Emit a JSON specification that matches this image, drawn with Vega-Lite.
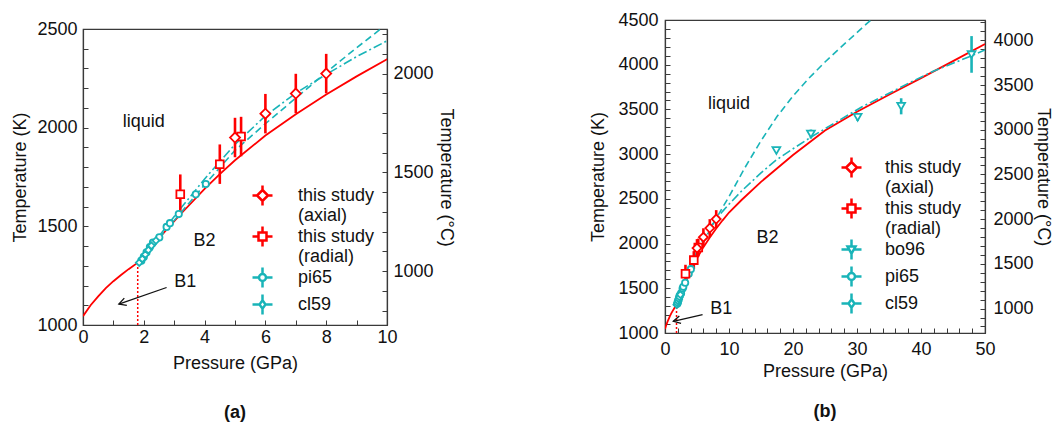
{
  "$schema": "https://vega.github.io/schema/vega-lite/v6.json",
  "padding": {"left": 11, "top": 10, "right": 0, "bottom": 0},
  "spacing": 134,
  "bounds": "full",
  "resolve": {"scale": {"color": "independent", "shape": "independent"}},
  "config": {
    "font": "Liberation Sans",
    "view": {"stroke": "#3a3a3a", "strokeWidth": 1.2},
    "axis": {"grid": false, "domainColor": "#3a3a3a", "tickColor": "#3a3a3a", "domainWidth": 1.2, "tickWidth": 1, "tickSize": -5, "labelFontSize": 18, "titleFontSize": 18, "labelColor": "#111", "titleColor": "#111", "titleFontWeight": "normal", "labelFlush": false, "labelOverlap": false, "labelFont": "Liberation Sans", "titleFont": "Liberation Sans"},
    "legend": {"labelFontSize": 18, "labelFont": "Liberation Sans", "labelColor": "#111"},
    "title": {"fontSize": 18, "fontWeight": "bold", "font": "Liberation Sans", "color": "#111"}
  },
  "datasets": {
    "curves": [
      {"c": "melt", "P": 0, "T": 1045}, {"c": "melt", "P": 0.25, "T": 1100}, {"c": "melt", "P": 0.5, "T": 1145}, {"c": "melt", "P": 0.75, "T": 1187}, {"c": "melt", "P": 1.0, "T": 1222}, {"c": "melt", "P": 1.25, "T": 1253}, {"c": "melt", "P": 1.5, "T": 1283}, {"c": "melt", "P": 1.8, "T": 1316}, {"c": "melt", "P": 2.5, "T": 1440}, {"c": "melt", "P": 3.2, "T": 1560}, {"c": "melt", "P": 4, "T": 1690}, {"c": "melt", "P": 4.5, "T": 1765}, {"c": "melt", "P": 5, "T": 1835}, {"c": "melt", "P": 6, "T": 1960}, {"c": "melt", "P": 7, "T": 2068}, {"c": "melt", "P": 8, "T": 2168}, {"c": "melt", "P": 9, "T": 2260}, {"c": "melt", "P": 10, "T": 2347}, {"c": "melt", "P": 12, "T": 2490}, {"c": "melt", "P": 15, "T": 2690}, {"c": "melt", "P": 20, "T": 2990}, {"c": "melt", "P": 25, "T": 3265}, {"c": "melt", "P": 30, "T": 3475}, {"c": "melt", "P": 35, "T": 3665}, {"c": "melt", "P": 40, "T": 3850}, {"c": "melt", "P": 45, "T": 4040}, {"c": "melt", "P": 50, "T": 4232},
      {"c": "dash", "P": 1.8, "T": 1316}, {"c": "dash", "P": 2.5, "T": 1440}, {"c": "dash", "P": 3, "T": 1530}, {"c": "dash", "P": 3.5, "T": 1620}, {"c": "dash", "P": 4, "T": 1710}, {"c": "dash", "P": 5, "T": 1885}, {"c": "dash", "P": 6, "T": 2020}, {"c": "dash", "P": 7, "T": 2150}, {"c": "dash", "P": 8, "T": 2280}, {"c": "dash", "P": 9, "T": 2405}, {"c": "dash", "P": 10, "T": 2525}, {"c": "dash", "P": 12.5, "T": 2850}, {"c": "dash", "P": 15, "T": 3150}, {"c": "dash", "P": 17.5, "T": 3420}, {"c": "dash", "P": 20, "T": 3650}, {"c": "dash", "P": 22.5, "T": 3850}, {"c": "dash", "P": 25, "T": 4030}, {"c": "dash", "P": 28, "T": 4230}, {"c": "dash", "P": 31.7, "T": 4470}, {"c": "dash", "P": 34, "T": 4610},
      {"c": "dashdot", "P": 1.8, "T": 1316}, {"c": "dashdot", "P": 2.5, "T": 1450}, {"c": "dashdot", "P": 3, "T": 1550}, {"c": "dashdot", "P": 4, "T": 1740}, {"c": "dashdot", "P": 5, "T": 1915}, {"c": "dashdot", "P": 6, "T": 2060}, {"c": "dashdot", "P": 7, "T": 2175}, {"c": "dashdot", "P": 8, "T": 2270}, {"c": "dashdot", "P": 9, "T": 2360}, {"c": "dashdot", "P": 10, "T": 2440}, {"c": "dashdot", "P": 12, "T": 2590}, {"c": "dashdot", "P": 15, "T": 2790}, {"c": "dashdot", "P": 17.3, "T": 2930}, {"c": "dashdot", "P": 20, "T": 3060}, {"c": "dashdot", "P": 22.8, "T": 3190}, {"c": "dashdot", "P": 25.6, "T": 3310}, {"c": "dashdot", "P": 30.8, "T": 3530}, {"c": "dashdot", "P": 35, "T": 3680}, {"c": "dashdot", "P": 38.1, "T": 3795}, {"c": "dashdot", "P": 42, "T": 3930}, {"c": "dashdot", "P": 47.9, "T": 4100}, {"c": "dashdot", "P": 50, "T": 4165}
    ],
    "pts": [
      {"s": "axial", "P": 5.0, "T": 1950, "lo": 1850, "hi": 2050},
      {"s": "axial", "P": 6.0, "T": 2071, "lo": 1971, "hi": 2171},
      {"s": "axial", "P": 7.0, "T": 2173, "lo": 2073, "hi": 2273},
      {"s": "axial", "P": 8.0, "T": 2274, "lo": 2174, "hi": 2374},
      {"s": "radial", "P": 3.2, "T": 1663, "lo": 1563, "hi": 1763},
      {"s": "radial", "P": 4.5, "T": 1815, "lo": 1715, "hi": 1915},
      {"s": "radial", "P": 5.2, "T": 1955, "lo": 1855, "hi": 2055},
      {"s": "pi65", "P": 1.92, "T": 1326}, {"s": "pi65", "P": 2.0, "T": 1345}, {"s": "pi65", "P": 2.09, "T": 1368}, {"s": "pi65", "P": 2.2, "T": 1395}, {"s": "pi65", "P": 2.3, "T": 1418}, {"s": "pi65", "P": 2.51, "T": 1444}, {"s": "pi65", "P": 2.75, "T": 1497}, {"s": "pi65", "P": 2.86, "T": 1516}, {"s": "pi65", "P": 3.15, "T": 1562}, {"s": "pi65", "P": 3.71, "T": 1662}, {"s": "pi65", "P": 4.04, "T": 1714},
      {"s": "cl59", "P": 1.85, "T": 1316}, {"s": "cl59", "P": 1.95, "T": 1335}, {"s": "cl59", "P": 2.05, "T": 1357}, {"s": "cl59", "P": 2.15, "T": 1380}, {"s": "cl59", "P": 2.25, "T": 1402}, {"s": "cl59", "P": 2.4, "T": 1428},
      {"s": "bo96", "P": 17.4, "T": 3040},
      {"s": "bo96", "P": 22.8, "T": 3225, "lo": 3175, "hi": 3275},
      {"s": "bo96", "P": 30.1, "T": 3412, "lo": 3372, "hi": 3452},
      {"s": "bo96", "P": 36.9, "T": 3535, "lo": 3445, "hi": 3625},
      {"s": "bo96", "P": 47.9, "T": 4113, "lo": 3910, "hi": 4320}
    ]
  },
  "hconcat": [
    {
      "vconcat": [
        {"width": 304, "height": 1, "view": {"stroke": null}, "data": {"values": [{}]}, "mark": {"type": "point", "opacity": 0}, "encoding": {}},
        {
          "width": 304, "height": 296,
          "title": {"text": "(a)", "orient": "bottom", "offset": 32},
          "layer": [
            {
              "layer": [
                {"data": {"name": "curves"}, "transform": [{"filter": "datum.c === 'melt'"}],
                 "mark": {"type": "line", "color": "#f00", "strokeWidth": 1.8, "clip": true},
                 "encoding": {
                   "x": {"field": "P", "type": "quantitative", "scale": {"domain": [0, 10], "nice": false, "zero": false}, "axis": null},
                   "y": {"field": "T", "type": "quantitative", "scale": {"domain": [1000, 2500], "nice": false, "zero": false}, "axis": null}
                 }},
                {"data": {"name": "curves"}, "transform": [{"filter": "datum.c === 'dash'"}],
                 "mark": {"type": "line", "color": "#19b4b8", "strokeWidth": 1.6, "strokeDash": [7, 4], "clip": true},
                 "encoding": {"x": {"field": "P", "type": "quantitative", "axis": null}, "y": {"field": "T", "type": "quantitative", "axis": null}}},
                {"data": {"name": "curves"}, "transform": [{"filter": "datum.c === 'dashdot'"}],
                 "mark": {"type": "line", "color": "#19b4b8", "strokeWidth": 1.6, "strokeDash": [9, 3, 2, 3], "clip": true},
                 "encoding": {"x": {"field": "P", "type": "quantitative", "axis": null}, "y": {"field": "T", "type": "quantitative", "axis": null}}},
                {"data": {"values": [{}]},
                 "mark": {"type": "rule", "color": "#f00", "strokeWidth": 1.5, "strokeDash": [2, 2]},
                 "encoding": {"x": {"datum": 1.8, "type": "quantitative", "axis": null}, "y": {"datum": 1000, "type": "quantitative", "axis": null}, "y2": {"datum": 1316}}},
                {"data": {"name": "pts"}, "transform": [{"filter": "isValid(datum.lo) && (datum.s === 'axial' || datum.s === 'radial')"}],
                 "mark": {"type": "rule", "color": "#f00", "strokeWidth": 2.6, "clip": true},
                 "encoding": {"x": {"field": "P", "type": "quantitative", "axis": null}, "y": {"field": "lo", "type": "quantitative", "axis": null}, "y2": {"field": "hi"}}},
                {"data": {"name": "pts"}, "transform": [{"filter": "datum.s === 'pi65'"}],
                 "mark": {"type": "point", "shape": "circle", "size": 40, "filled": true, "fill": "white", "stroke": "#19b4b8", "strokeWidth": 1.8, "opacity": 1, "clip": true},
                 "encoding": {"x": {"field": "P", "type": "quantitative", "axis": null}, "y": {"field": "T", "type": "quantitative", "axis": null}}},
                {"data": {"name": "pts"}, "transform": [{"filter": "datum.s === 'cl59'"}],
                 "mark": {"type": "point", "shape": "diamond", "size": 45, "filled": true, "fill": "white", "stroke": "#19b4b8", "strokeWidth": 1.8, "opacity": 1, "clip": true},
                 "encoding": {"x": {"field": "P", "type": "quantitative", "axis": null}, "y": {"field": "T", "type": "quantitative", "axis": null}}},
                {"data": {"name": "pts"}, "transform": [{"filter": "datum.s === 'radial'"}],
                 "mark": {"type": "point", "shape": "square", "size": 60, "filled": true, "fill": "white", "stroke": "#f00", "strokeWidth": 1.8, "opacity": 1, "clip": true},
                 "encoding": {"x": {"field": "P", "type": "quantitative", "axis": null}, "y": {"field": "T", "type": "quantitative", "axis": null}}},
                {"data": {"name": "pts"}, "transform": [{"filter": "datum.s === 'axial'"}],
                 "mark": {"type": "point", "shape": "diamond", "size": 100, "filled": true, "fill": "white", "stroke": "#f00", "strokeWidth": 1.8, "opacity": 1, "clip": true},
                 "encoding": {"x": {"field": "P", "type": "quantitative", "axis": null}, "y": {"field": "T", "type": "quantitative", "axis": null}}},
                {"data": {"values": [{}]}, "mark": {"type": "text", "fontSize": 18, "color": "#111"},
                 "encoding": {"x": {"datum": 2.0, "type": "quantitative", "axis": null}, "y": {"datum": 2030, "type": "quantitative", "axis": null}, "text": {"value": "liquid"}}},
                {"data": {"values": [{}]}, "mark": {"type": "text", "fontSize": 18, "color": "#111"},
                 "encoding": {"x": {"datum": 4.0, "type": "quantitative", "axis": null}, "y": {"datum": 1427, "type": "quantitative", "axis": null}, "text": {"value": "B2"}}},
                {"data": {"values": [{}]}, "mark": {"type": "text", "fontSize": 18, "color": "#111"},
                 "encoding": {"x": {"datum": 3.36, "type": "quantitative", "axis": null}, "y": {"datum": 1219, "type": "quantitative", "axis": null}, "text": {"value": "B1"}}},
                {"data": {"values": [{}]}, "mark": {"type": "rule", "color": "#111", "strokeWidth": 1.3},
                 "encoding": {"x": {"datum": 2.75, "type": "quantitative", "axis": null}, "y": {"datum": 1190, "type": "quantitative", "axis": null}, "x2": {"datum": 1.18}, "y2": {"datum": 1106}}},
                {"data": {"values": [{}]}, "mark": {"type": "point", "shape": "M-1,-0.55L0,0L-1,0.55", "size": 200, "angle": 161, "filled": false, "stroke": "#111", "strokeWidth": 1.3, "opacity": 1},
                 "encoding": {"x": {"datum": 1.18, "type": "quantitative", "axis": null}, "y": {"datum": 1106, "type": "quantitative", "axis": null}}},
                {"data": {"values": []},
                 "mark": {"type": "point", "filled": false, "strokeWidth": 2.5, "opacity": 1},
                 "encoding": {
                   "color": {"field": "s", "type": "nominal", "scale": {"domain": ["this study|(axial)", "this study|(radial)", "pi65", "cl59"], "range": ["#f00", "#f00", "#19b4b8", "#19b4b8"]},
                             "legend": {"orient": "none", "legendX": 168, "legendY": 164, "title": null, "labelExpr": "split(datum.label, '|')", "symbolSize": 400, "symbolStrokeWidth": 2.5, "labelOffset": 24, "rowPadding": -5, "padding": 0}},
                   "shape": {"field": "s", "type": "nominal", "scale": {"domain": ["this study|(axial)", "this study|(radial)", "pi65", "cl59"], "range": [
                     "M0,-0.55L0.55,0L0,0.55L-0.55,0Z M0,-1L0,-0.55 M0,0.55L0,1 M-1,0L-0.55,0 M0.55,0L1,0",
                     "M-0.4,-0.4L0.4,-0.4L0.4,0.4L-0.4,0.4Z M0,-1L0,-0.4 M0,0.4L0,1 M-1,0L-0.4,0 M0.4,0L1,0",
                     "M0.35,0A0.35,0.35,0,1,1,-0.35,0A0.35,0.35,0,1,1,0.35,0Z M0,-1L0,-0.35 M0,0.35L0,1 M-1,0L-0.35,0 M0.35,0L1,0",
                     "M0,-0.42L0.3,0L0,0.42L-0.3,0Z M0,-1L0,-0.42 M0,0.42L0,1 M-1,0L-0.3,0 M0.3,0L1,0"]},
                             "legend": {"orient": "none", "legendX": 168, "legendY": 164, "title": null, "labelExpr": "split(datum.label, '|')", "symbolSize": 400, "symbolStrokeWidth": 2.5, "labelOffset": 24, "rowPadding": -5, "padding": 0}}
                 }}
              ]
            },
            {"data": {"values": [{}]},
             "mark": {"type": "point", "opacity": 0},
             "encoding": {
               "x": {"datum": 5, "type": "quantitative", "scale": {"domain": [0, 10], "nice": false, "zero": false},
                     "axis": {"orient": "bottom", "title": "Pressure (GPa)", "values": [0,0.5,1,1.5,2,2.5,3,3.5,4,4.5,5,5.5,6,6.5,7,7.5,8,8.5,9,9.5,10], "format": "d", "labelExpr": "datum.value % 2 === 0 ? datum.label : ''", "labelOverlap": false, "labelPadding": 8, "titlePadding": 8}},
               "y": {"datum": 1500, "type": "quantitative", "scale": {"domain": [1000, 2500], "nice": false, "zero": false},
                     "axis": {"orient": "left", "title": "Temperature (K)", "values": [1000,1100,1200,1300,1400,1500,1600,1700,1800,1900,2000,2100,2200,2300,2400,2500], "format": "d", "labelExpr": "datum.value % 500 === 0 ? datum.label : ''", "labelOverlap": false, "labelPadding": 11, "titlePadding": 7}}
             }},
            {"data": {"values": [{}]},
             "mark": {"type": "point", "opacity": 0},
             "encoding": {
               "y": {"datum": 1000, "type": "quantitative", "scale": {"domain": [726.85, 2226.85], "nice": false, "zero": false},
                     "axis": {"orient": "right", "title": "Temperature (°C)", "values": [800,900,1000,1100,1200,1300,1400,1500,1600,1700,1800,1900,2000,2100,2200], "format": "d", "labelExpr": "datum.value % 500 === 0 ? datum.label : ''", "labelOverlap": false, "labelPadding": 11, "titlePadding": 3}}
             }}
          ],
          "resolve": {"scale": {"y": "independent", "x": "independent"}}
        }
      ],
      "spacing": -5
    },
    {
      "width": 320, "height": 313,
      "title": {"text": "(b)", "orient": "bottom", "offset": 23},
      "layer": [
        {
          "layer": [
            {"data": {"name": "curves"}, "transform": [{"filter": "datum.c === 'melt'"}],
             "mark": {"type": "line", "color": "#f00", "strokeWidth": 1.8, "clip": true},
             "encoding": {
               "x": {"field": "P", "type": "quantitative", "scale": {"domain": [0, 50], "nice": false, "zero": false}, "axis": null},
               "y": {"field": "T", "type": "quantitative", "scale": {"domain": [1000, 4500], "nice": false, "zero": false}, "axis": null}
             }},
            {"data": {"name": "curves"}, "transform": [{"filter": "datum.c === 'dash'"}],
             "mark": {"type": "line", "color": "#19b4b8", "strokeWidth": 1.6, "strokeDash": [7, 4], "clip": true},
             "encoding": {"x": {"field": "P", "type": "quantitative", "axis": null}, "y": {"field": "T", "type": "quantitative", "axis": null}}},
            {"data": {"name": "curves"}, "transform": [{"filter": "datum.c === 'dashdot'"}],
             "mark": {"type": "line", "color": "#19b4b8", "strokeWidth": 1.6, "strokeDash": [9, 3, 2, 3], "clip": true},
             "encoding": {"x": {"field": "P", "type": "quantitative", "axis": null}, "y": {"field": "T", "type": "quantitative", "axis": null}}},
            {"data": {"values": [{}]},
             "mark": {"type": "rule", "color": "#f00", "strokeWidth": 1.5, "strokeDash": [2, 2]},
             "encoding": {"x": {"datum": 1.8, "type": "quantitative", "axis": null}, "y": {"datum": 1000, "type": "quantitative", "axis": null}, "y2": {"datum": 1316}}},
            {"data": {"name": "pts"}, "transform": [{"filter": "isValid(datum.lo) && (datum.s === 'axial' || datum.s === 'radial')"}],
             "mark": {"type": "rule", "color": "#f00", "strokeWidth": 2.6, "clip": true},
             "encoding": {"x": {"field": "P", "type": "quantitative", "axis": null}, "y": {"field": "lo", "type": "quantitative", "axis": null}, "y2": {"field": "hi"}}},
            {"data": {"name": "pts"}, "transform": [{"filter": "isValid(datum.lo) && datum.s === 'bo96'"}],
             "mark": {"type": "rule", "color": "#19b4b8", "strokeWidth": 2.6, "clip": true},
             "encoding": {"x": {"field": "P", "type": "quantitative", "axis": null}, "y": {"field": "lo", "type": "quantitative", "axis": null}, "y2": {"field": "hi"}}},
            {"data": {"name": "pts"}, "transform": [{"filter": "datum.s === 'pi65'"}],
             "mark": {"type": "point", "shape": "circle", "size": 40, "filled": true, "fill": "white", "stroke": "#19b4b8", "strokeWidth": 1.8, "opacity": 1, "clip": true},
             "encoding": {"x": {"field": "P", "type": "quantitative", "axis": null}, "y": {"field": "T", "type": "quantitative", "axis": null}}},
            {"data": {"name": "pts"}, "transform": [{"filter": "datum.s === 'cl59'"}],
             "mark": {"type": "point", "shape": "diamond", "size": 45, "filled": true, "fill": "white", "stroke": "#19b4b8", "strokeWidth": 1.8, "opacity": 1, "clip": true},
             "encoding": {"x": {"field": "P", "type": "quantitative", "axis": null}, "y": {"field": "T", "type": "quantitative", "axis": null}}},
            {"data": {"name": "pts"}, "transform": [{"filter": "datum.s === 'bo96'"}],
             "mark": {"type": "point", "shape": "triangle-down", "size": 60, "filled": true, "fill": "white", "stroke": "#19b4b8", "strokeWidth": 1.8, "opacity": 1, "clip": true},
             "encoding": {"x": {"field": "P", "type": "quantitative", "axis": null}, "y": {"field": "T", "type": "quantitative", "axis": null}}},
            {"data": {"name": "pts"}, "transform": [{"filter": "datum.s === 'radial'"}],
             "mark": {"type": "point", "shape": "square", "size": 60, "filled": true, "fill": "white", "stroke": "#f00", "strokeWidth": 1.8, "opacity": 1, "clip": true},
             "encoding": {"x": {"field": "P", "type": "quantitative", "axis": null}, "y": {"field": "T", "type": "quantitative", "axis": null}}},
            {"data": {"name": "pts"}, "transform": [{"filter": "datum.s === 'axial'"}],
             "mark": {"type": "point", "shape": "diamond", "size": 80, "filled": true, "fill": "white", "stroke": "#f00", "strokeWidth": 1.8, "opacity": 1, "clip": true},
             "encoding": {"x": {"field": "P", "type": "quantitative", "axis": null}, "y": {"field": "T", "type": "quantitative", "axis": null}}},
            {"data": {"values": [{}]}, "mark": {"type": "text", "fontSize": 18, "color": "#111"},
             "encoding": {"x": {"datum": 10.0, "type": "quantitative", "axis": null}, "y": {"datum": 3557, "type": "quantitative", "axis": null}, "text": {"value": "liquid"}}},
            {"data": {"values": [{}]}, "mark": {"type": "text", "fontSize": 18, "color": "#111"},
             "encoding": {"x": {"datum": 16.0, "type": "quantitative", "axis": null}, "y": {"datum": 2065, "type": "quantitative", "axis": null}, "text": {"value": "B2"}}},
            {"data": {"values": [{}]}, "mark": {"type": "text", "fontSize": 18, "color": "#111"},
             "encoding": {"x": {"datum": 8.8, "type": "quantitative", "axis": null}, "y": {"datum": 1265, "type": "quantitative", "axis": null}, "text": {"value": "B1"}}},
            {"data": {"values": [{}]}, "mark": {"type": "rule", "color": "#111", "strokeWidth": 1.3},
             "encoding": {"x": {"datum": 5.87, "type": "quantitative", "axis": null}, "y": {"datum": 1206, "type": "quantitative", "axis": null}, "x2": {"datum": 1.3}, "y2": {"datum": 1131}}},
            {"data": {"values": [{}]}, "mark": {"type": "point", "shape": "M-1,-0.55L0,0L-1,0.55", "size": 200, "angle": 167, "filled": false, "stroke": "#111", "strokeWidth": 1.3, "opacity": 1},
             "encoding": {"x": {"datum": 1.3, "type": "quantitative", "axis": null}, "y": {"datum": 1131, "type": "quantitative", "axis": null}}},
            {"data": {"values": []},
             "mark": {"type": "point", "filled": false, "strokeWidth": 2.5, "opacity": 1},
             "encoding": {
               "color": {"field": "s", "type": "nominal", "scale": {"domain": ["this study|(axial)", "this study|(radial)", "bo96", "pi65", "cl59"], "range": ["#f00", "#f00", "#19b4b8", "#19b4b8", "#19b4b8"]},
                         "legend": {"orient": "none", "legendX": 175, "legendY": 136, "title": null, "labelExpr": "split(datum.label, '|')", "symbolSize": 400, "symbolStrokeWidth": 2.5, "labelOffset": 22, "rowPadding": -4, "padding": 0}},
               "shape": {"field": "s", "type": "nominal", "scale": {"domain": ["this study|(axial)", "this study|(radial)", "bo96", "pi65", "cl59"], "range": [
                 "M0,-0.55L0.55,0L0,0.55L-0.55,0Z M0,-1L0,-0.55 M0,0.55L0,1 M-1,0L-0.55,0 M0.55,0L1,0",
                 "M-0.4,-0.4L0.4,-0.4L0.4,0.4L-0.4,0.4Z M0,-1L0,-0.4 M0,0.4L0,1 M-1,0L-0.4,0 M0.4,0L1,0",
                 "M-0.4,-0.3L0.4,-0.3L0,0.42Z M0,-1L0,-0.3 M0,0.42L0,1 M-1,0L-0.2,0 M0.2,0L1,0",
                 "M0.35,0A0.35,0.35,0,1,1,-0.35,0A0.35,0.35,0,1,1,0.35,0Z M0,-1L0,-0.35 M0,0.35L0,1 M-1,0L-0.35,0 M0.35,0L1,0",
                 "M0,-0.42L0.3,0L0,0.42L-0.3,0Z M0,-1L0,-0.42 M0,0.42L0,1 M-1,0L-0.3,0 M0.3,0L1,0"]},
                         "legend": {"orient": "none", "legendX": 175, "legendY": 136, "title": null, "labelExpr": "split(datum.label, '|')", "symbolSize": 400, "symbolStrokeWidth": 2.5, "labelOffset": 22, "rowPadding": -4, "padding": 0}}
             }}
          ]
        },
        {"data": {"values": [{}]},
         "mark": {"type": "point", "opacity": 0},
         "encoding": {
           "x": {"datum": 25, "type": "quantitative", "scale": {"domain": [0, 50], "nice": false, "zero": false},
                 "axis": {"orient": "bottom", "title": "Pressure (GPa)", "values": [0,2,4,6,8,10,12,14,16,18,20,22,24,26,28,30,32,34,36,38,40,42,44,46,48,50], "format": "d", "labelExpr": "datum.value % 10 === 0 ? datum.label : ''", "labelOverlap": false, "labelPadding": 12, "titlePadding": 4}},
           "y": {"datum": 2000, "type": "quantitative", "scale": {"domain": [1000, 4500], "nice": false, "zero": false},
                 "axis": {"orient": "left", "title": "Temperature (K)", "values": [1000,1100,1200,1300,1400,1500,1600,1700,1800,1900,2000,2100,2200,2300,2400,2500,2600,2700,2800,2900,3000,3100,3200,3300,3400,3500,3600,3700,3800,3900,4000,4100,4200,4300,4400,4500], "format": "d", "labelExpr": "datum.value % 500 === 0 ? datum.label : ''", "labelOverlap": false, "labelPadding": 12, "titlePadding": 10}}
         }},
        {"data": {"values": [{}]},
         "mark": {"type": "point", "opacity": 0},
         "encoding": {
           "y": {"datum": 1000, "type": "quantitative", "scale": {"domain": [726.85, 4226.85], "nice": false, "zero": false},
                 "axis": {"orient": "right", "title": "Temperature (°C)", "values": [800,900,1000,1100,1200,1300,1400,1500,1600,1700,1800,1900,2000,2100,2200,2300,2400,2500,2600,2700,2800,2900,3000,3100,3200,3300,3400,3500,3600,3700,3800,3900,4000,4100,4200], "format": "d", "labelExpr": "datum.value % 500 === 0 ? datum.label : ''", "labelOverlap": false, "labelPadding": 13, "titlePadding": 0}}
         }}
      ],
      "resolve": {"scale": {"y": "independent", "x": "independent"}}
    }
  ]
}
